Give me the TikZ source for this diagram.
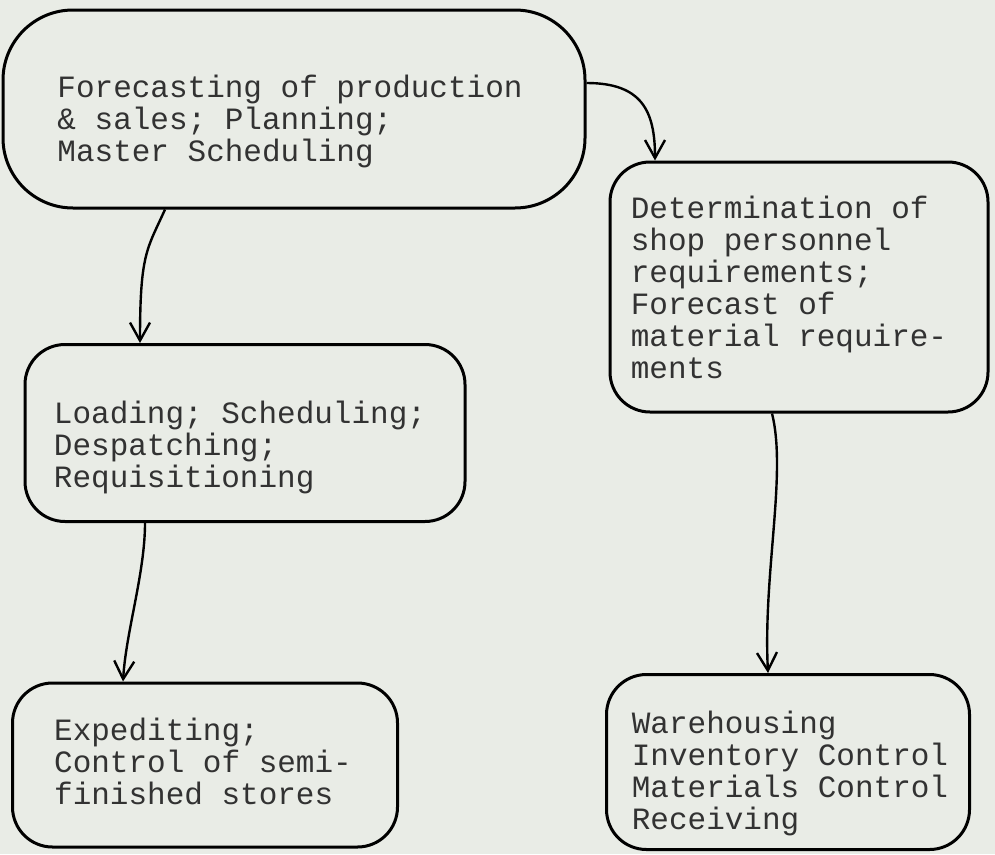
\documentclass[tikz,border=0pt]{standalone}
\usepackage{fontspec}
\setmonofont{Liberation Mono}
\usetikzlibrary{arrows.meta}
\definecolor{paper}{RGB}{233,236,230}
\definecolor{ink}{RGB}{50,50,50}
\begin{document}
\begin{tikzpicture}[x=1pt, y=-1pt,
    stage/.style={draw, line width=3pt, rounded corners=40pt},
    stagetext/.style={align=left, text=ink, font=\ttfamily\fontsize{31}{32}\selectfont},
    flow/.style={line width=2.4pt, -{Straight Barb[length=18pt,width=20pt]}}]
  \path[use as bounding box, fill=paper] (0,0) rectangle (995,854);
  \node[stage, rounded corners=70pt, minimum width=582pt, minimum height=198pt] (forecast) at (294,109) {};
  \node[stage, minimum width=378pt, minimum height=250pt] (personnel) at (799,287) {};
  \node[stage, minimum width=440pt, minimum height=177pt] (loading) at (245,433) {};
  \node[stage, minimum width=385pt, minimum height=164pt] (expediting) at (205,765) {};
  \node[stage, minimum width=363pt, minimum height=175pt] (warehousing) at (788,762) {};
  \node[stagetext] (forecast-text) at ([shift={(-4,12)}]forecast.center)
    {Forecasting of production\\\& sales; Planning;\\Master Scheduling};
  \node[stagetext] (personnel-text) at ([shift={(-10,0)}]personnel.center)
    {Determination of\\shop personnel\\requirements;\\Forecast of\\material require-\\ments};
  \node[stagetext] (loading-text) at ([shift={(-5,14)}]loading.center)
    {Loading; Scheduling;\\Despatching;\\Requisitioning};
  \node[stagetext] (expediting-text) at ([shift={(-2,-4)}]expediting.center)
    {Expediting;\\Control of semi-\\finished stores};
  \node[stagetext] (warehousing-text) at ([shift={(2,11)}]warehousing.center)
    {Warehousing\\Inventory Control\\Materials Control\\Receiving};
  \draw[flow] ([xshift=-129pt]forecast.south) .. controls +(-18,40) and +(0,-90) .. ([xshift=-105pt]loading.north);
  \draw[flow] ([yshift=26pt]forecast.east) .. controls +(55,0) and +(0,-50) .. ([xshift=-144pt]personnel.north);
  \draw[flow] ([xshift=-100pt]loading.south) .. controls +(0,50) and +(3,-50) .. ([xshift=-82pt]expediting.north);
  \draw[flow] ([xshift=-27pt]personnel.south) .. controls +(15,60) and +(-5,-100) .. ([xshift=-20pt]warehousing.north);
\end{tikzpicture}
\end{document}
